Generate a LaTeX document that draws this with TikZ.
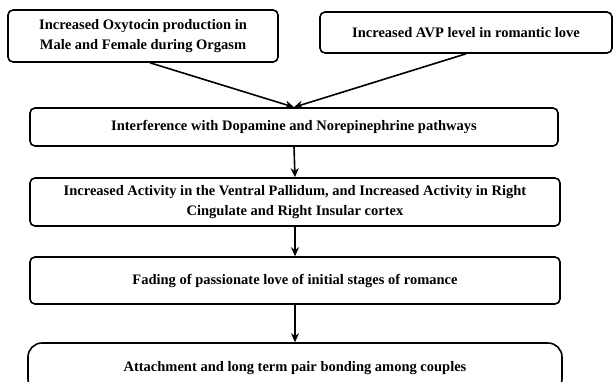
\documentclass[tikz,border=0pt]{standalone}
\usepackage{fontspec}
\setmainfont{Liberation Serif}
\usetikzlibrary{arrows.meta}
\begin{document}
\begin{tikzpicture}[x=1pt,y=-1pt,
  box/.style={draw,line width=1.6pt,rounded corners=5pt,align=center,font=\bfseries\fontsize{14.5}{20}\selectfont,inner sep=0pt},
  endbox/.style={box,rounded corners=14pt},
  arr/.style={line width=1.6pt,-{Stealth[length=9pt,width=8pt]}}]
\useasboundingbox (0,0) rectangle (615,381);
\clip (0,0) rectangle (615,381);
\node[box,minimum width=270pt,minimum height=52pt] (b1) at (143,36) {Increased Oxytocin production in\\Male and Female during Orgasm};
\node[box,minimum width=292pt,minimum height=41pt] (b2) at (466,32.5) {Increased AVP level in romantic love};
\node[box,minimum width=528pt,minimum height=38pt] (b3) at (294,127) {Interference with Dopamine and Norepinephrine pathways};
\node[box,minimum width=530pt,minimum height=48pt] (b4) at (295,202) {Increased Activity in the Ventral Pallidum, and Increased Activity in Right\\Cingulate and Right Insular cortex};
\node[box,minimum width=530pt,minimum height=47pt] (b5) at (295,280.5) {Fading of passionate love of initial stages of romance};
\node[endbox,minimum width=534pt,minimum height=50pt] (b6) at (295,368) {Attachment and long term pair bonding among couples};
\draw[arr] (b1.south) ++(7,0) -- (b3.north);
\draw[arr] (b2.south) -- (b3.north);
\draw[arr] (b3.south) -- (b4.north);
\draw[arr] (b4.south) -- (b5.north);
\draw[arr] (b5.south) -- (b6.north);
\end{tikzpicture}
\end{document}
